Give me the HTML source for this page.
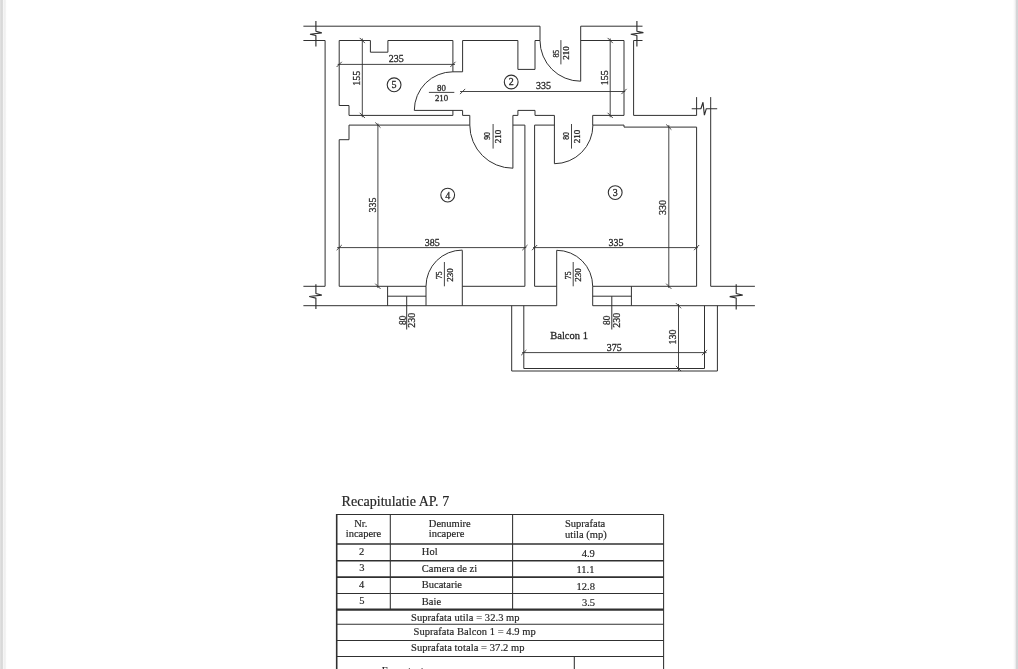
<!DOCTYPE html>
<html><head><meta charset="utf-8"><title>Recapitulatie AP. 7</title>
<style>
html,body{margin:0;padding:0;background:#fff;}
body{width:1018px;height:669px;overflow:hidden;position:relative;font-family:"Liberation Serif",serif;}
svg{position:absolute;left:0;top:0;display:block;will-change:transform}
svg text{font-family:"Liberation Serif",serif;fill:#262626;stroke:#262626;stroke-width:0.28px;}
.tb text{stroke-width:0.18px;}
.edgeL{position:absolute;left:0;top:0;width:7px;height:669px;background:linear-gradient(to right,#e4e4e4 0,#d9d9d9 1.5px,#dcdcdc 2.7px,#f7f7f7 3.2px,#f0f0f0 4.5px,#f3f3f3 5.6px,#fff 6.6px);}
.edgeR{position:absolute;right:0;top:0;width:5px;height:669px;background:linear-gradient(to right,#fff 0,#f6f6f7 1.5px,#e9e9ea 2.6px,#d5d5d7 3.1px,#d4d4d6 5px);}
</style></head><body>
<div class="edgeL"></div><div class="edgeR"></div>
<svg width="1018" height="669" viewBox="0 0 1018 669">
<g fill="none" stroke="#303030" stroke-width="1" stroke-linecap="butt" stroke-linejoin="miter">
<path d="M303.4,26.2 H540 V40.5 M580.7,26.2 H642.5 M580.7,26.2 V81.2 M303.4,40.5 H325.1 V286.3 H303.4 M303.4,305.7 H556.7 M592.7,305.7 H754.9 M754.9,286.3 H710.7 V97.1 M696.6,97.1 V115.4 H633.6 V40.5 H642.5 M452.9,71.8 V40.5 H387.9 V52.2 H370.4 V40.5 H339.2 V105.5 H349.0 V115.4 H452.9 V110.4 M414.3,110.4 H462.6 V115.4 H469.8 V125.1 H349.0 V139.7 H339.2 V286.3 H426 M452.9,71.8 H462.6 V40.5 H517.9 V69.4 H535 V40.5 H540 M580.7,40.5 H624 V115.4 H592.7 V125.1 H624 V127.1 H696.6 V286.3 H592.7 M512.9,168.3 V115.4 H517.9 V110.4 H535 V115.4 H554.4 V163.7 M512.9,125.1 H524.9 V286.3 H462.3 M554.4,125.1 H534.6 V286.3 H556.7 M462.3,250.3 V305.7 M556.7,250.3 V305.7 M387.6,286.3 V305.7 M426,286.3 V305.7 M387.6,296.2 H426 M406.7,296.2 V329.5 M592.7,286.3 V305.7 M631.4,286.3 V305.7 M592.7,296.2 H631.4 M611.8,296.2 V329.5 M511.7,305.7 V371 H717.4 V305.7 M523.8,305.7 V368.5 H704.5 V305.7"/>
<path d="M540,40.5 A40.7,40.7 0 0 0 580.7,81.2 M452.9,71.8 A38.6,38.6 0 0 0 414.3,110.4 M469.8,125.1 A43.1,43.1 0 0 0 512.9,168.2 M554.4,163.7 A38.5,38.5 0 0 0 592.9,125.1 M426,286.3 A36.2,36.2 0 0 1 462.3,250.1 M556.7,250.3 A36,36 0 0 1 592.7,286.3"/>
<path d="M337.7,64.4 H455 M362.3,38.5 V117.2 M460.1,91.5 H625.2 M610.2,38.5 V117.2 M377.9,123.5 V288 M337.2,247.6 H526.3 M533,247.6 H697.8 M668.8,125.1 V288 M522.1,352.6 H706.5 M678.5,304 V371 M428.9,92.4 H454.3 M560.9,40.1 V64.4 M493.1,124 V148.6 M571.5,124 V148.6 M444.4,262 V286.3 M573.2,262 V286.3" stroke-width="0.9"/>
<path d="M336.59999999999997,67.0 L341.8,61.800000000000004 M450.29999999999995,67.0 L455.5,61.800000000000004 M359.7,37.9 L364.90000000000003,43.1 M359.7,112.80000000000001 L364.90000000000003,118.0 M460.0,94.1 L465.20000000000005,88.9 M621.4,94.1 L626.6,88.9 M607.6,37.9 L612.8000000000001,43.1 M607.6,112.80000000000001 L612.8000000000001,118.0 M375.29999999999995,122.5 L380.5,127.69999999999999 M375.29999999999995,283.7 L380.5,288.90000000000003 M336.59999999999997,250.2 L341.8,245.0 M522.3,250.2 L527.5,245.0 M532.0,250.2 L537.2,245.0 M694.0,250.2 L699.2,245.0 M666.1999999999999,124.5 L671.4,129.7 M666.1999999999999,283.7 L671.4,288.90000000000003 M521.1999999999999,355.20000000000005 L526.4,350.0 M701.9,355.20000000000005 L707.1,350.0 M675.9,303.09999999999997 L681.1,308.3 M675.9,365.9 L681.1,371.1" stroke-width="0.9"/>
<path d="M315.9,20.9 V31.2 L321.8,32.9 L310,34.2 L315.9,35.5 V46.5 M636.9,20.9 V31.2 L643.4,32.6 L630.8,34.2 L636.9,35.5 V46.5 M691.7,108.7 H700.9 L703,102.2 L704.4,115.2 L706.3,108.7 H717.2 M315.9,284.2 V293.5 L321.8,295.1 L309.2,296.5 L315.9,298.1 V308.9 M736.2,284.2 V293.5 L742.7,295.1 L729.7,296.6 L736.2,298 V309.4" stroke-linejoin="bevel" stroke-width="1.15"/>
</g>
<g>
<circle cx="394.1" cy="84.8" r="6.9" fill="none" stroke="#303030" stroke-width="1.1"/>
<text x="394.1" y="84.8" font-size="10" text-anchor="middle" dy="0.34em">5</text>
<circle cx="511.2" cy="82" r="6.9" fill="none" stroke="#303030" stroke-width="1.1"/>
<text x="511.2" y="82" font-size="10" text-anchor="middle" dy="0.34em">2</text>
<circle cx="447.7" cy="195.1" r="6.9" fill="none" stroke="#303030" stroke-width="1.1"/>
<text x="447.7" y="195.1" font-size="10" text-anchor="middle" dy="0.34em">4</text>
<circle cx="615.2" cy="192.6" r="6.9" fill="none" stroke="#303030" stroke-width="1.1"/>
<text x="615.2" y="192.6" font-size="10" text-anchor="middle" dy="0.34em">3</text>
<text x="396.3" y="58.9" font-size="10" text-anchor="middle" dy="0.34em">235</text>
<text transform="translate(356.6,78.3) rotate(-90)" font-size="10" text-anchor="middle" dy="0.34em">155</text>
<text x="543.4" y="85.4" font-size="10" text-anchor="middle" dy="0.34em">335</text>
<text transform="translate(604.3,77.8) rotate(-90)" font-size="10" text-anchor="middle" dy="0.34em">155</text>
<text transform="translate(372.6,205.1) rotate(-90)" font-size="10" text-anchor="middle" dy="0.34em">335</text>
<text x="432.3" y="242.5" font-size="10" text-anchor="middle" dy="0.34em">385</text>
<text x="616" y="242.5" font-size="10" text-anchor="middle" dy="0.34em">335</text>
<text transform="translate(663,207.6) rotate(-90)" font-size="10" text-anchor="middle" dy="0.34em">330</text>
<text x="614.3" y="347.6" font-size="10" text-anchor="middle" dy="0.34em">375</text>
<text transform="translate(673,337) rotate(-90)" font-size="10" text-anchor="middle" dy="0.34em">130</text>
<text x="569.1" y="335.4" font-size="10.5" text-anchor="middle" dy="0.34em">Balcon 1</text>
<text x="441.5" y="88.2" font-size="8.8" text-anchor="middle" dy="0.34em">80</text>
<text x="441.5" y="97.9" font-size="8.8" text-anchor="middle" dy="0.34em">210</text>
<text transform="translate(556.6,53.7) rotate(-90)" font-size="7.6" text-anchor="middle" dy="0.34em" textLength="7.7" lengthAdjust="spacingAndGlyphs">85</text>
<text transform="translate(566.4,53.0) rotate(-90)" font-size="8.0" text-anchor="middle" dy="0.34em" textLength="13.5" lengthAdjust="spacingAndGlyphs">210</text>
<text transform="translate(487.8,136) rotate(-90)" font-size="7.6" text-anchor="middle" dy="0.34em" textLength="7.7" lengthAdjust="spacingAndGlyphs">90</text>
<text transform="translate(498.1,136.4) rotate(-90)" font-size="8.0" text-anchor="middle" dy="0.34em" textLength="13.5" lengthAdjust="spacingAndGlyphs">210</text>
<text transform="translate(566.5,136) rotate(-90)" font-size="7.6" text-anchor="middle" dy="0.34em" textLength="7.7" lengthAdjust="spacingAndGlyphs">80</text>
<text transform="translate(577.3,136.4) rotate(-90)" font-size="8.0" text-anchor="middle" dy="0.34em" textLength="13.5" lengthAdjust="spacingAndGlyphs">210</text>
<text transform="translate(439.8,275.2) rotate(-90)" font-size="7.6" text-anchor="middle" dy="0.34em" textLength="7.7" lengthAdjust="spacingAndGlyphs">75</text>
<text transform="translate(450.2,275.1) rotate(-90)" font-size="8.0" text-anchor="middle" dy="0.34em" textLength="13.5" lengthAdjust="spacingAndGlyphs">230</text>
<text transform="translate(568.0,275.3) rotate(-90)" font-size="7.6" text-anchor="middle" dy="0.34em" textLength="7.7" lengthAdjust="spacingAndGlyphs">75</text>
<text transform="translate(578.5,275.1) rotate(-90)" font-size="8.0" text-anchor="middle" dy="0.34em" textLength="13.5" lengthAdjust="spacingAndGlyphs">230</text>
<text transform="translate(402.2,320.3) rotate(-90)" font-size="10" text-anchor="middle" dy="0.34em" textLength="9.2" lengthAdjust="spacingAndGlyphs">80</text>
<text transform="translate(411.4,320.3) rotate(-90)" font-size="10" text-anchor="middle" dy="0.34em">230</text>
<text transform="translate(606.8,320.3) rotate(-90)" font-size="10" text-anchor="middle" dy="0.34em" textLength="9.2" lengthAdjust="spacingAndGlyphs">80</text>
<text transform="translate(616.9,320.3) rotate(-90)" font-size="10" text-anchor="middle" dy="0.34em">230</text>
</g>
<g class="tb">
<path d="M336.7,514.5 H663.6 M663.6,514.5 V669 M390.3,514.5 V609.7 M512.6,514.5 V609.7 M574.3,656.5 V669" stroke="#303030" stroke-width="1.05" fill="none"/>
<path d="M336.7,514.0 V669" stroke="#303030" stroke-width="1.6" fill="none"/>
<path d="M336.7,544 H663.6" stroke="#303030" stroke-width="1.4" fill="none"/>
<path d="M336.7,560.7 H663.6" stroke="#303030" stroke-width="1.6" fill="none"/>
<path d="M336.7,577.1 H663.6" stroke="#303030" stroke-width="1.8" fill="none"/>
<path d="M336.7,593.5 H663.6" stroke="#303030" stroke-width="1.1" fill="none"/>
<path d="M336.7,609.7 H663.6" stroke="#303030" stroke-width="2.2" fill="none"/>
<path d="M336.7,624.3 H663.6" stroke="#303030" stroke-width="1.1" fill="none"/>
<path d="M336.7,640.5 H663.6" stroke="#303030" stroke-width="1.1" fill="none"/>
<path d="M336.7,656.5 H663.6" stroke="#303030" stroke-width="1.0" fill="none"/>
<text x="341.6" y="506" font-size="14.2" textLength="107.6" lengthAdjust="spacingAndGlyphs">Recapitulatie AP. 7</text>
<text x="360.7" y="523.9" font-size="10.5" text-anchor="middle" dy="0.34em">Nr.</text>
<text x="363.5" y="533.9" font-size="10.5" text-anchor="middle" dy="0.34em">incapere</text>
<text x="428.8" y="523.9" font-size="10.5" text-anchor="start" dy="0.34em">Denumire</text>
<text x="428.8" y="533.9" font-size="10.5" text-anchor="start" dy="0.34em">incapere</text>
<text x="565" y="523.9" font-size="10.5" text-anchor="start" dy="0.34em">Suprafata</text>
<text x="565" y="534.9" font-size="10.5" text-anchor="start" dy="0.34em">utila (mp)</text>
<text x="361.6" y="551.6" font-size="10.5" text-anchor="middle" dy="0.34em">2</text>
<text x="421.8" y="551.6" font-size="10.5" text-anchor="start" dy="0.34em">Hol</text>
<text x="588.3" y="553.3" font-size="10.5" text-anchor="middle" dy="0.34em">4.9</text>
<text x="361.8" y="567.9" font-size="10.5" text-anchor="middle" dy="0.34em">3</text>
<text x="421.8" y="568.4" font-size="10.5" text-anchor="start" dy="0.34em">Camera de zi</text>
<text x="585.4" y="569.6" font-size="10.5" text-anchor="middle" dy="0.34em">11.1</text>
<text x="361.6" y="584.1" font-size="10.5" text-anchor="middle" dy="0.34em">4</text>
<text x="421.8" y="584.0" font-size="10.5" text-anchor="start" dy="0.34em">Bucatarie</text>
<text x="585.8" y="586.3" font-size="10.5" text-anchor="middle" dy="0.34em">12.8</text>
<text x="361.8" y="600.6" font-size="10.5" text-anchor="middle" dy="0.34em">5</text>
<text x="421.8" y="601.4" font-size="10.5" text-anchor="start" dy="0.34em">Baie</text>
<text x="588.5" y="602.2" font-size="10.5" text-anchor="middle" dy="0.34em">3.5</text>
<text x="411" y="617.0" font-size="10.5" text-anchor="start" dy="0.34em" textLength="108.6" lengthAdjust="spacing">Suprafata utila = 32.3 mp</text>
<text x="413.5" y="631.8" font-size="10.5" text-anchor="start" dy="0.34em" textLength="122.3" lengthAdjust="spacing">Suprafata Balcon 1 = 4.9 mp</text>
<text x="411" y="647.7" font-size="10.5" text-anchor="start" dy="0.34em" textLength="113.6" lengthAdjust="spacing">Suprafata totala = 37.2 mp</text>
<text x="381.8" y="670.2" font-size="10.5" text-anchor="start" dy="0.34em">Executant</text>
</g>
</svg>
</body></html>
